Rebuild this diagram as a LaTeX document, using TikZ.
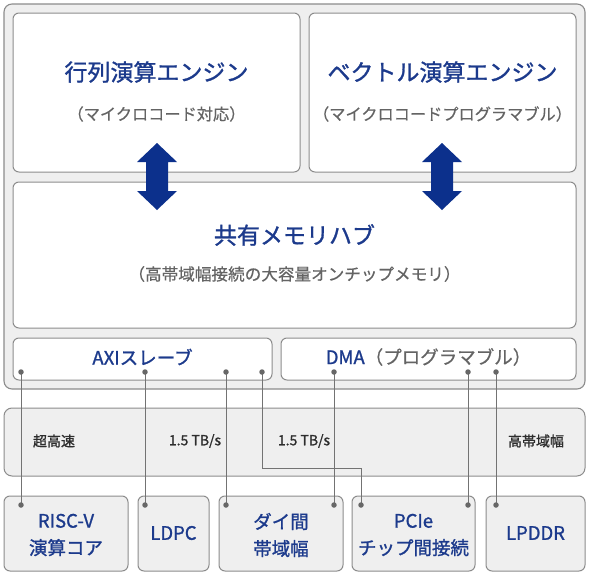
\documentclass[tikz,border=0pt]{standalone}
\usepackage{fontspec}
\setmainfont{Noto Sans CJK JP}
\newfontfamily\medfont[FakeBold=1.2]{Noto Sans CJK JP}
\newfontfamily\semifont[FakeBold=0.6]{Noto Sans CJK JP}
\definecolor{navy}{RGB}{28,58,140}
\definecolor{arrowblue}{RGB}{12,48,140}
\definecolor{subgray}{RGB}{100,100,100}
\definecolor{bandtext}{RGB}{45,45,45}
\definecolor{boxgray}{RGB}{140,140,140}
\definecolor{panel}{RGB}{239,239,239}
\definecolor{wire}{RGB}{115,115,115}
\begin{document}
\begin{tikzpicture}[x=1pt,y=-1pt,
  panelbox/.style={draw=boxgray, fill=panel, rounded corners=8pt, line width=1.1pt, inner sep=0pt},
  whitebox/.style={draw=boxgray, fill=white, rounded corners=6pt, line width=1pt, inner sep=0pt},
  unitbox/.style={draw=boxgray, fill=panel, rounded corners=6pt, line width=1pt, inner sep=0pt},
  titletext/.style={text=navy, font=\medfont\fontsize{23}{28}\selectfont, inner sep=0pt},
  subtext/.style={text=subgray, font=\semifont\fontsize{16.2}{19}\selectfont, inner sep=0pt},
  bartext/.style={text=navy, font=\medfont\fontsize{18.5}{22}\selectfont, inner sep=0pt},
  bandlabel/.style={text=bandtext, font=\medfont\fontsize{14}{17}\selectfont, inner sep=0pt},
  unittext/.style={text=navy, font=\medfont\fontsize{18.5}{27}\selectfont, align=center, inner sep=0pt},
  wireline/.style={draw=wire, line width=0.9pt},
  dotmark/.style={circle, fill=wire!90!black, minimum size=5.5pt, inner sep=0pt},
  bigarrow/.style={fill=arrowblue, draw=none}
]
\useasboundingbox (0,0) rectangle (590,576);

% outer chip panel
\node[panelbox, minimum width=581pt, minimum height=385pt] (chip) at (294.5,196.5) {};

% engines
\node[whitebox, minimum width=287pt, minimum height=159pt] (matrix) at (156.5,92.5) {};
\node[whitebox, minimum width=267pt, minimum height=159pt] (vector) at (442.5,92.5) {};
\node[whitebox, minimum width=563pt, minimum height=146pt] (hub) at (294.5,255) {};
\node[whitebox, minimum width=259pt, minimum height=42pt] (axi) at (142.5,359) {};
\node[whitebox, minimum width=295pt, minimum height=42pt] (dma) at (428.5,359) {};

\node[titletext] (matrixT) at (156.5,72) {行列演算エンジン};
\node[subtext] (matrixS) at (156.5,114) {（マイクロコード対応）};
\node[titletext] (vectorT) at (442.5,72) {ベクトル演算エンジン};
\node[subtext] (vectorS) at (442.5,114) {（マイクロコードプログラマブル）};
\node[titletext] (hubT) at (294.5,235) {共有メモリハブ};
\node[subtext, font=\semifont\fontsize{16.6}{19}\selectfont] (hubS) at (294.5,274) {（高帯域幅接続の大容量オンチップメモリ）};
\node[bartext] (axiT) at (142.5,357) {AXIスレーブ};
\node[bartext] (dmaT) at (428.5,357) {DMA{\semifont\textcolor{subgray}{（プログラマブル）}}};

% double arrows
\foreach \cx/\nm in {157/arrowL, 442/arrowR}{
  \fill[bigarrow] (\cx,143) -- (\cx+20,162) -- (\cx+11,162) -- (\cx+11,191) -- (\cx+20,191)
    -- (\cx,210) -- (\cx-20,191) -- (\cx-11,191) -- (\cx-11,162) -- (\cx-20,162) -- cycle;
}

% bandwidth band
\node[panelbox, line width=1pt, minimum width=581pt, minimum height=68pt] (band) at (294.5,442) {};
\node[bandlabel] (bw1) at (54,441) {超高速};
\node[bandlabel] (bw2) at (195,441) {1.5 TB/s};
\node[bandlabel] (bw3) at (304,441) {1.5 TB/s};
\node[bandlabel] (bw4) at (536,441) {高帯域幅};

% bottom units
\node[unitbox, minimum width=124pt, minimum height=75pt] (risc) at (66,533.5) {};
\node[unitbox, minimum width=71pt, minimum height=75pt] (ldpc) at (173.5,533.5) {};
\node[unitbox, minimum width=124pt, minimum height=75pt] (die) at (281,533.5) {};
\node[unitbox, minimum width=123pt, minimum height=75pt] (pcie) at (413.5,533.5) {};
\node[unitbox, minimum width=99pt, minimum height=75pt] (lpddr) at (535.5,533.5) {};

\node[unittext] (riscT) at (66,535) {RISC-V\\演算コア};
\node[unittext] (ldpcT) at (173.5,533) {LDPC};
\node[unittext] (dieT) at (281,535) {ダイ間\\帯域幅};
\node[unittext] (pcieT) at (413.5,535) {PCIe\\チップ間接続};
\node[unittext] (lpddrT) at (535.5,533) {LPDDR};

% connection points
\coordinate (a1) at (21,372);
\coordinate (a2) at (145,372);
\coordinate (a3) at (226,372);
\coordinate (a4) at (262,372);
\coordinate (d1) at (334,372);
\coordinate (d2) at (468,372);
\coordinate (d3) at (496,372);
\coordinate (b1) at (21,505);
\coordinate (b2) at (145,505);
\coordinate (b3) at (226,505);
\coordinate (b4) at (334,505);
\coordinate (b5) at (361,505);
\coordinate (b6) at (468,505);
\coordinate (b7) at (496,505);
\coordinate (bend1) at (262,468);
\coordinate (bend2) at (361,468);

\draw[wireline] (a1) -- (b1);
\draw[wireline] (a2) -- (b2);
\draw[wireline] (a3) -- (b3);
\draw[wireline] (a4) -- (bend1) -- (bend2) -- (b5);
\draw[wireline] (d1) -- (b4);
\draw[wireline] (d2) -- (b6);
\draw[wireline] (d3) -- (b7);

\foreach \p in {a1,a2,a3,a4,d1,d2,d3,b1,b2,b3,b4,b5,b6,b7}{
  \node[dotmark] at (\p) {};
}
\end{tikzpicture}
\end{document}
